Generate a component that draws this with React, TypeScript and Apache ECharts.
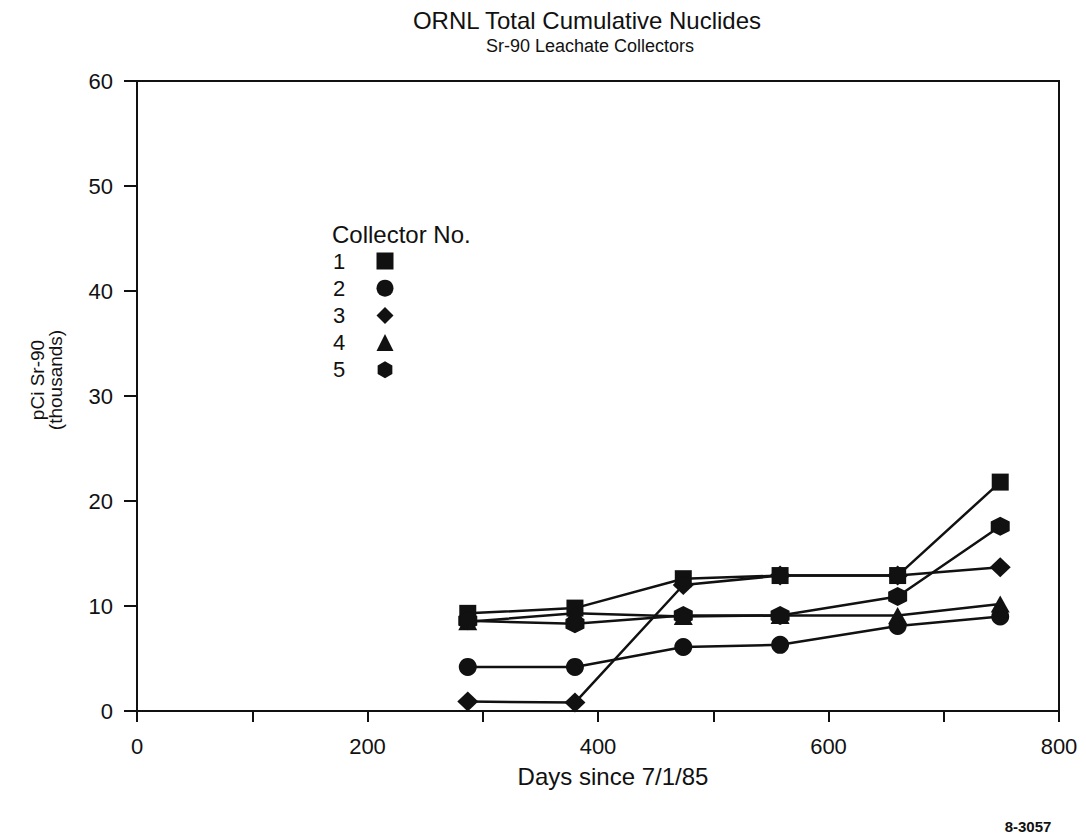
import React, { useEffect, useRef } from "react";
import * as echarts from "echarts";

const days = [287, 380, 474, 558, 660, 749];
const collector1 = [9.3, 9.8, 12.6, 12.9, 12.9, 21.8];
const collector2 = [4.2, 4.2, 6.1, 6.3, 8.1, 9.0];
const collector3 = [0.9, 0.8, 12.0, 12.9, 12.9, 13.7];
const collector4 = [8.5, 9.3, 9.0, 9.1, 9.1, 10.2];
const collector5 = [8.6, 8.3, 9.1, 9.1, 10.9, 17.6];
const seriesNames = ["1", "2", "3", "4", "5"];
const xTicks = [0, 200, 400, 600, 800];
const yTicks = [0, 10, 20, 30, 40, 50, 60];

const HEX = "path://M0,-10 L8.66,-5 L8.66,5 L0,10 L-8.66,5 L-8.66,-5 Z";
const symbols = ["rect", "circle", "diamond", "triangle", HEX];
const symbolSizes: any[] = [[17, 17], [18, 18], [21, 20], [19, 17], [19, 19]];
const INK = "#111";
const FONT = "'Liberation Sans', Arial, Helvetica, sans-serif";

export default function App() {
  const ref = useRef<HTMLDivElement>(null);
  useEffect(() => {
    if (!ref.current) return;
    const chart = echarts.init(ref.current, undefined, { renderer: "svg" });
    const all = [collector1, collector2, collector3, collector4, collector5];
    const series = all.map((vals, i) => ({
      name: seriesNames[i],
      type: "line",
      data: vals.map((v, j) => [days[j], v]),
      symbol: symbols[i],
      symbolSize: symbolSizes[i],
      showAllSymbol: true,
      lineStyle: { color: INK, width: 2.5 },
      itemStyle: { color: INK },
      z: 3,
    }));
    const legendNumbers = seriesNames.map((n, i) => ({
      type: "text",
      style: {
        x: 333,
        y: 261 + 27.2 * i,
        text: n,
        fontSize: 22,
        fontFamily: FONT,
        fill: INK,
        align: "left",
        verticalAlign: "middle",
      },
    }));
    chart.setOption({
      animation: false,
      backgroundColor: "#fff",
      textStyle: { fontFamily: FONT, color: INK },
      grid: {
        left: 137,
        right: 27,
        top: 81,
        bottom: 128,
        show: true,
        borderColor: INK,
        borderWidth: 2,
        backgroundColor: "transparent",
      },
      legend: {
        orient: "vertical",
        left: 376.5,
        top: 252.5,
        align: "left",
        itemWidth: 17,
        itemHeight: 17,
        itemGap: 10.2,
        padding: 0,
        selectedMode: false,
        formatter: () => "",
        data: seriesNames.map((n, i) => ({
          name: n,
          icon: i === 4 ? HEX : symbols[i],
        })),
        textStyle: { fontSize: 10, lineHeight: 17, color: INK },
      },
      xAxis: {
        type: "value",
        min: xTicks[0],
        max: xTicks[xTicks.length - 1],
        interval: 200,
        axisLine: { show: true, onZero: false, lineStyle: { color: INK, width: 2 } },
        axisTick: { show: true, length: 11, lineStyle: { color: INK, width: 2 } },
        minorTick: { show: true, splitNumber: 2, length: 11, lineStyle: { color: INK, width: 2 } },
        splitLine: { show: false },
        axisLabel: { fontSize: 22, color: INK, margin: 24, fontFamily: FONT },
      },
      yAxis: {
        type: "value",
        min: yTicks[0],
        max: yTicks[yTicks.length - 1],
        interval: 10,
        axisLine: { show: true, lineStyle: { color: INK, width: 2 } },
        axisTick: { show: true, length: 13, lineStyle: { color: INK, width: 2 } },
        splitLine: { show: false },
        axisLabel: { fontSize: 22, color: INK, margin: 24, fontFamily: FONT },
      },
      graphic: [
        {
          type: "text",
          style: {
            x: 587,
            y: 20,
            text: "ORNL Total Cumulative Nuclides",
            fontSize: 24,
            fontFamily: FONT,
            fill: INK,
            align: "center",
            verticalAlign: "middle",
          },
        },
        {
          type: "text",
          style: {
            x: 590,
            y: 46,
            text: "Sr-90 Leachate Collectors",
            fontSize: 18,
            fontFamily: FONT,
            fill: INK,
            align: "center",
            verticalAlign: "middle",
          },
        },
        {
          type: "text",
          style: {
            x: 332,
            y: 234,
            text: "Collector No.",
            fontSize: 24,
            fontFamily: FONT,
            fill: INK,
            align: "left",
            verticalAlign: "middle",
          },
        },
        ...legendNumbers,
        {
          type: "text",
          style: {
            x: 613,
            y: 776,
            text: "Days since 7/1/85",
            fontSize: 24,
            fontFamily: FONT,
            fill: INK,
            align: "center",
            verticalAlign: "middle",
          },
        },
        {
          type: "text",
          x: 46,
          y: 380,
          rotation: Math.PI / 2,
          style: {
            x: 0,
            y: 0,
            text: "pCi Sr-90\n(thousands)",
            fontSize: 19,
            lineHeight: 18,
            fontFamily: FONT,
            fill: INK,
            align: "center",
            verticalAlign: "middle",
          },
        },
        {
          type: "text",
          style: {
            x: 1028,
            y: 826,
            text: "8-3057",
            fontSize: 15,
            fontWeight: "bold",
            fontFamily: FONT,
            fill: INK,
            align: "center",
            verticalAlign: "middle",
          },
        },
      ],
      series,
    });
    return () => chart.dispose();
  }, []);
  return (
    <div
      ref={ref}
      style={{ position: "absolute", left: 0, top: 0, width: 1086, height: 839 }}
    />
  );
}
